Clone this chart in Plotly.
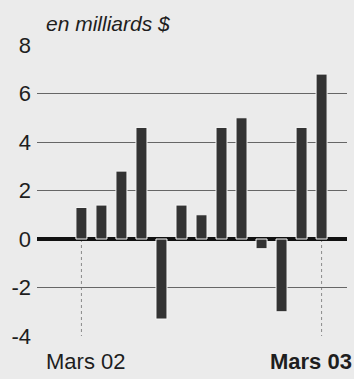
import plotly.graph_objects as go

# Monthly values, in billions of dollars
months = ["Mars 02", "Avr 02", "Mai 02", "Juin 02", "Juil 02", "Août 02", "Sept 02",
          "Oct 02", "Nov 02", "Déc 02", "Janv 03", "Févr 03", "Mars 03"]
values = [1.3, 1.4, 2.8, 4.6, -3.3, 1.4, 1.0, 4.6, 5.0, -0.4, -3.0, 4.6, 6.8]

y_ticks = [-4, -2, 0, 2, 4, 6, 8]
y_tick_labels = ["-4", "-2", "0", "2", "4", "6", "8"]
unit_label = "en milliards $"
marked_months = ["Mars 02", "Mars 03"]

FONT = "Liberation Sans, Arial, sans-serif"
BG = "#ebebeb"
INK = "#1e1e1e"

fig = go.Figure(
    go.Bar(
        x=months,
        y=values,
        width=0.55,
        marker=dict(color="#333333", line=dict(color="#f7f7f7", width=1)),
    )
)

# dotted guides below the zero line for the two labelled months
for m in marked_months:
    fig.add_shape(
        type="line", xref="x", yref="y", x0=m, x1=m, y0=0, y1=y_ticks[0],
        line=dict(color="#8a8a8a", width=1, dash="dot"), layer="below",
    )

fig.add_annotation(
    x=marked_months[0], xref="x", y=0, yref="paper", yanchor="top",
    xanchor="center", xshift=4, yshift=-11, showarrow=False, text=marked_months[0],
    font=dict(family=FONT, size=22, color=INK),
)
fig.add_annotation(
    x=1, xref="paper", y=0, yref="paper", yanchor="top",
    xanchor="right", xshift=7, yshift=-11, showarrow=False,
    text="<b>" + marked_months[1] + "</b>",
    font=dict(family=FONT, size=22, color=INK),
)
fig.add_annotation(
    x=0, xref="paper", y=1, yref="paper", xanchor="left", yanchor="bottom",
    xshift=7, yshift=8, showarrow=False, text="<i>" + unit_label + "</i>",
    font=dict(family=FONT, size=21, color=INK),
)

fig.update_layout(
    width=354, height=379,
    margin=dict(l=37, r=7, t=45, b=43),
    paper_bgcolor=BG, plot_bgcolor=BG,
    showlegend=False,
    font=dict(family=FONT, size=22, color=INK),
)
fig.update_xaxes(
    type="category", range=[-2.22, 13.27], showticklabels=False,
    showgrid=False, zeroline=False, showline=False, ticks="",
)
fig.update_yaxes(
    range=[-4, 8], tickvals=y_ticks, ticktext=y_tick_labels,
    showgrid=True, gridcolor="#666666", gridwidth=1.4,
    zeroline=True, zerolinecolor="#111", zerolinewidth=3.5,
    showline=False, ticks="", ticklabelstandoff=5,
    tickfont=dict(family=FONT, size=22, color=INK),
)

fig.write_html("out.html")
